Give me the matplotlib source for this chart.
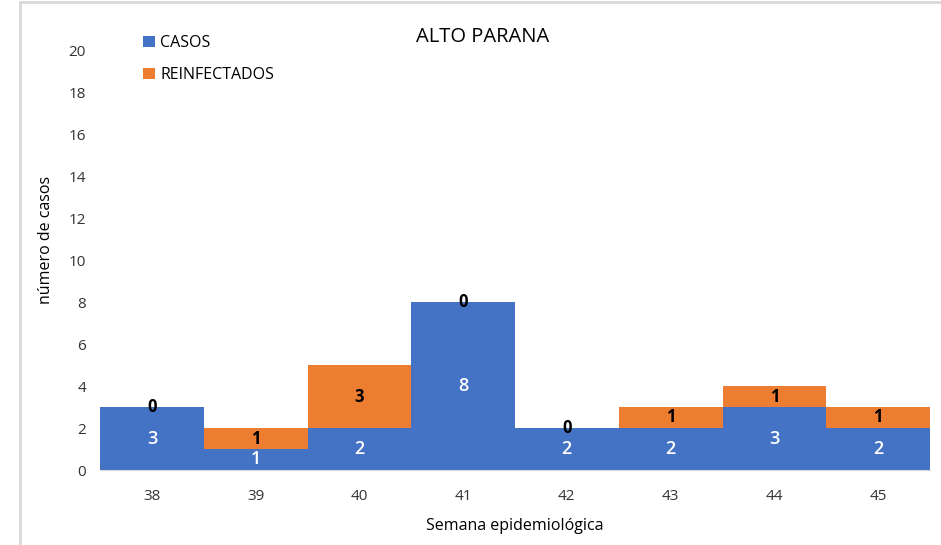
import numpy as np
import matplotlib.pyplot as plt
from matplotlib.patches import Rectangle

plt.rcParams['font.family'] = ['Open Sans', 'DejaVu Sans']

semanas = ['38', '39', '40', '41', '42', '43', '44', '45']
casos = [3, 1, 2, 8, 2, 2, 3, 2]
reinfectados = [0, 1, 3, 0, 0, 1, 1, 1]

blue = '#4472C4'
orange = '#ED7D31'

fig = plt.figure(figsize=(9.41, 5.45), dpi=100)
ax = fig.add_axes([100 / 941, 1 - 470 / 545, 830 / 941, 420 / 545])

# grey frame of the original chart area (cropped at right/bottom)
fig.patches.append(Rectangle((20 / 941, -0.1), 1.0, 1 - 2 / 545 + 0.1,
                             transform=fig.transFigure, fill=False,
                             edgecolor='#d9d9d9', linewidth=2))

x = np.arange(len(semanas))
b1 = ax.bar(x, casos, width=1.0, color=blue, linewidth=0, label='CASOS')
b2 = ax.bar(x, reinfectados, width=1.0, bottom=casos, color=orange,
            linewidth=0, label='REINFECTADOS')

ax.bar_label(b1, label_type='center', color='white', fontsize=13,
             fontweight='semibold')
ax.bar_label(b2, label_type='center', color='black', fontsize=12,
             fontweight='bold')

ax.set_xlim(-0.5, 7.5)
ax.set_ylim(0, 20)
ax.set_yticks(range(0, 21, 2))
ax.set_xticks(x)
ax.set_xticklabels(semanas)
ax.tick_params(length=0, labelsize=11, colors='#333333')
ax.tick_params(axis='x', pad=14)
ax.tick_params(axis='y', pad=10)

for s in ['top', 'right', 'left']:
    ax.spines[s].set_visible(False)
ax.spines['bottom'].set_color('#d9d9d9')

ax.set_xlabel('Semana epidemiológica', fontsize=11.5, labelpad=10)
ax.set_ylabel('número de casos', fontsize=11.5)
ax.yaxis.set_label_coords(-0.055, 0.548)

fig.text(483 / 941, 1 - 37 / 545, 'ALTO PARANA', fontsize=14.5,
         ha='center', va='center')

ax.legend(loc='upper left', bbox_to_anchor=(137 / 941, 1 - 29 / 545),
          bbox_transform=fig.transFigure, frameon=False, fontsize=11.5,
          handlelength=0.7, handleheight=0.7, handletextpad=0.35,
          labelspacing=1.0, borderaxespad=0)

fig.savefig('out.png', dpi=100)
